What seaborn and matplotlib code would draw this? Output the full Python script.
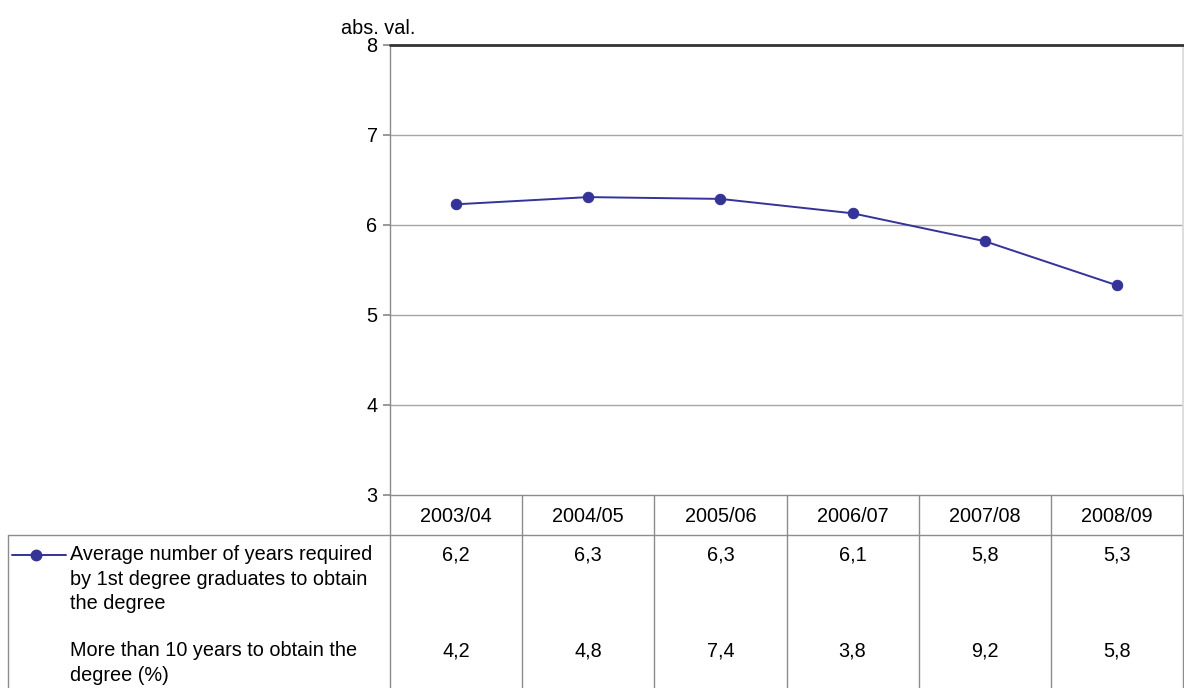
import matplotlib
matplotlib.use("Agg")
import matplotlib.pyplot as plt
import seaborn as sns
import pandas as pd
from matplotlib.lines import Line2D

years = ["2003/04", "2004/05", "2005/06", "2006/07", "2007/08", "2008/09"]
avg_years = [6.23, 6.31, 6.29, 6.13, 5.82, 5.33]
avg_years_label = ["6,2", "6,3", "6,3", "6,1", "5,8", "5,3"]
over10_label = ["4,2", "4,8", "7,4", "3,8", "9,2", "5,8"]
row_names = ["Average number of years required\nby 1st degree graduates to obtain\nthe degree",
             "More than 10 years to obtain the\ndegree (%)"]
y_ticks = [3, 4, 5, 6, 7, 8]

sns.set_theme(style="white")
plt.rcParams['font.family'] = ['Liberation Sans', 'DejaVu Sans']
plt.rcParams['text.color'] = 'black'
plt.rcParams['ytick.color'] = 'black'
FS = 14.3

W, H = 1184, 688
fig = plt.figure(figsize=(W / 100, H / 100), dpi=100)
L, R, T, B = 390, 1183, 45, 495
ax = fig.add_axes([L / W, 1 - B / H, (R - L) / W, (B - T) / H])

df = pd.DataFrame({"x": range(len(years)), "y": avg_years})
line_color = "#333399"
sns.lineplot(data=df, x="x", y="y", ax=ax, color=line_color, lw=1.4,
             marker="o", markersize=7.5, markeredgecolor=line_color)

ax.set_xlim(-0.5, len(years) - 0.5)
ax.set_ylim(3, 8)
ax.set_yticks(y_ticks)
ax.set_yticklabels([str(t) for t in y_ticks], fontsize=FS, color="black")
ax.set_xticks([])
ax.set_xlabel("")
ax.set_ylabel("")
for t in y_ticks[1:-1]:
    ax.axhline(t, color="#a6a6a6", lw=1, zorder=0)
ax.axhline(8, color="#333333", lw=2, zorder=3, clip_on=False)
for s in ["left", "bottom"]:
    ax.spines[s].set_color("#8c8c8c")
    ax.spines[s].set_linewidth(1)
ax.spines["right"].set_color("#d9d9d9")
ax.spines["top"].set_visible(False)
ax.tick_params(axis="y", length=5, color="#8c8c8c", pad=4, left=True, direction="out",
               labelcolor="black")

fig.text(341 / W, 1 - 28 / H, "abs. val.", fontsize=FS, va="center", ha="left", color="black")

# table
def fy(py):
    return 1 - py / H
def fx(px):
    return px / W

tc = "#8c8c8c"
col_w = (R - L) / len(years)
for i in range(len(years) + 1):
    x = L + i * col_w
    fig.add_artist(Line2D([fx(x), fx(x)], [fy(B), fy(H)], color=tc, lw=1))
fig.add_artist(Line2D([fx(8), fx(8)], [fy(535), fy(H)], color=tc, lw=1))
fig.add_artist(Line2D([fx(8), fx(R)], [fy(535), fy(535)], color=tc, lw=1))

for i, yr in enumerate(years):
    cx = L + (i + 0.5) * col_w
    fig.text(fx(cx), fy(517), yr, fontsize=FS, ha="center", va="center", color="black")
    fig.text(fx(cx), fy(555), avg_years_label[i], fontsize=FS, ha="center", va="center", color="black")
    fig.text(fx(cx), fy(651), over10_label[i], fontsize=FS, ha="center", va="center", color="black")

fig.text(fx(70), fy(545), row_names[0], fontsize=FS, ha="left", va="top", linespacing=1.38, color="black")
fig.text(fx(70), fy(641), row_names[1], fontsize=FS, ha="left", va="top", linespacing=1.38, color="black")
fig.add_artist(Line2D([fx(12), fx(66)], [fy(555), fy(555)], color=line_color, lw=1.4))
fig.add_artist(Line2D([fx(36)], [fy(555)], color=line_color, marker="o", markersize=7.5, lw=0))

fig.savefig("out.png", dpi=100)
